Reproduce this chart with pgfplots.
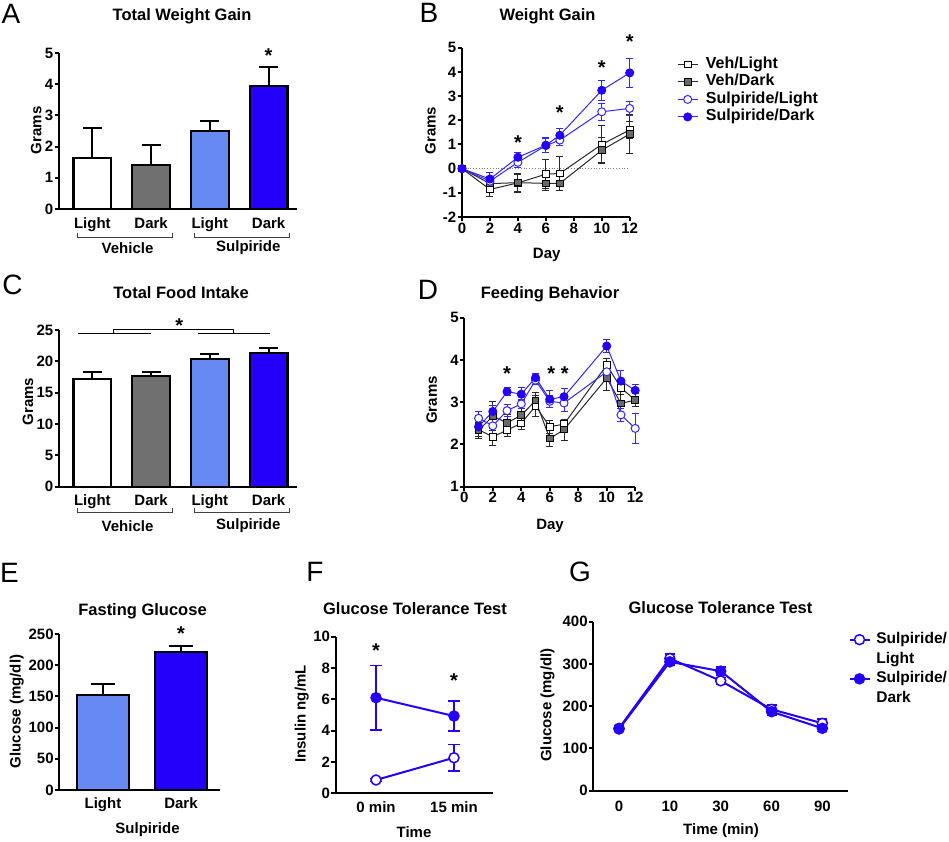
\documentclass[border=0pt]{standalone}
\usepackage{fontspec}
\setmainfont{Liberation Sans}
\usepackage{pgfplots}
\pgfplotsset{compat=1.18}
\definecolor{dblue}{RGB}{36,0,250}
\definecolor{lblue}{RGB}{102,138,242}
\definecolor{bgrey}{RGB}{112,112,112}
\definecolor{lnblue}{RGB}{50,40,255}
\definecolor{lngrey}{RGB}{40,40,40}
\definecolor{mgrey}{RGB}{105,105,105}
\newcommand{\tfont}{\bfseries\fontsize{16.5}{18}\selectfont}
\newcommand{\lfont}{\bfseries\fontsize{15}{17}\selectfont}
\newcommand{\kfont}{\fontsize{28}{30}\selectfont}
\newcommand{\sfont}{\bfseries\fontsize{20}{20}\selectfont}
\pgfplotsset{
  base/.style={
    scale only axis, anchor=south west,
    axis lines=left,
    axis line style={-, line width=2pt, black},
    tick align=outside,
    major tick length=4.5pt,
    tick style={line width=2pt, black},
    tick label style={font=\lfont, inner sep=1pt},
    /pgf/number format/assume math mode=true,
    clip=false,
  },
  catx/.style={major x tick style={draw=none}, xticklabel style={yshift=-#1}},
  barA/.style={ybar, bar shift=0pt, draw=black, line width=2.3pt,
     error bars/y dir=plus, error bars/y explicit,
     error bars/error bar style={line width=2pt, black},
     error bars/error mark options={rotate=90, black, mark size=#1, line width=2pt}},
  ebar/.style n args={3}{error bars/y dir=both, error bars/y explicit,
     error bars/error bar style={line width=#2, #1},
     error bars/error mark options={rotate=90, #1, mark size=#3, line width=#2}},
  vehL/.style={lngrey, line width=1pt, mark=square*, mark size=3.3pt,
     mark options={fill=white, draw=black, line width=1pt}, ebar={lngrey}{1pt}{3.5pt}},
  vehD/.style={lngrey, line width=1pt, mark=square*, mark size=3.3pt,
     mark options={fill=mgrey, draw=black, line width=1pt}, ebar={lngrey}{1pt}{3.5pt}},
  sulL/.style={lnblue, line width=1pt, mark=*, mark size=4pt,
     mark options={fill=white, draw=lnblue, line width=1pt}, ebar={lnblue}{1pt}{3.5pt}},
  sulD/.style={lnblue, line width=1pt, mark=*, mark size=4pt,
     mark options={fill=dblue, draw=dblue, line width=1pt}, ebar={lnblue}{1pt}{3.5pt}},
  bigL/.style={dblue, line width=2pt, mark=*, mark size=5pt,
     mark options={fill=white, draw=dblue, line width=1.5pt}, ebar={dblue}{1.5pt}{#1}},
  bigD/.style={dblue, line width=2pt, mark=*, mark size=5pt,
     mark options={fill=dblue, draw=dblue, line width=1.5pt}, ebar={dblue}{1.5pt}{#1}},
}
\begin{document}
\begin{tikzpicture}[x=1pt,y=1pt]
\path[use as bounding box] (0,0) rectangle (949,841);

% ---------- A ----------
\begin{axis}[base, catx=2.5pt, at={(59pt,632pt)}, width=238pt, height=156pt,
  xmin=-0.568, xmax=3.483, ymin=0, ymax=5, ytick={0,1,2,3,4,5},
  xtick={0,1,2,3}, xticklabels={Light,Dark,Light,Dark}]
\addplot[barA=9.5pt, bar width=0.64, fill=white] coordinates {(0,1.64) +- (0,0.95)};
\addplot[barA=9.5pt, bar width=0.64, fill=bgrey] coordinates {(1,1.41) +- (0,0.65)};
\addplot[barA=9.5pt, bar width=0.64, fill=lblue] coordinates {(2,2.49) +- (0,0.33)};
\addplot[barA=9.5pt, bar width=0.64, fill=dblue] coordinates {(3,3.94) +- (0,0.61)};
\node[font=\sfont, yshift=-4pt] at (axis cs:3,5.04) {*};
\end{axis}

% ---------- B ----------
\begin{axis}[base, at={(462pt,624pt)}, width=167.7pt, height=169.3pt,
  xmin=0, xmax=12, ymin=-2, ymax=5,
  xtick={0,2,4,6,8,10,12}, ytick={-2,-1,0,1,2,3,4,5},
  yticklabels={-2,-1,0,1,2,3,4,5},
  legend style={at={(1.282,0.954)}, anchor=north west, draw=none, fill=none,
    font=\bfseries\fontsize{16}{17}\selectfont, inner sep=0pt, column sep=7pt,
    nodes={text height=12pt, text depth=4pt, inner sep=0.75pt}},
  legend cell align=left,
  legend image code/.code={\draw[mark repeat=2,mark phase=2] plot coordinates {(0pt,0pt) (10pt,0pt) (20pt,0pt)};}]
\addplot[gray, dotted, line width=0.8pt, forget plot] coordinates {(0,0) (12,0)};
\addplot[vehL] coordinates {(0,0) +- (0,0) (2,-0.86) +- (0,0.28) (4,-0.59) +- (0,0.4) (6,-0.23) +- (0,0.6) (7,-0.2) +- (0,0.72) (10,1.0) +- (0,0.8) (12,1.6) +- (0,0.35)};
\addlegendentry{Veh/Light}
\addplot[vehD] coordinates {(0,0) +- (0,0) (2,-0.62) +- (0,0.2) (4,-0.58) +- (0,0.35) (6,-0.61) +- (0,0.3) (7,-0.61) +- (0,0.28) (10,0.76) +- (0,0.52) (12,1.43) +- (0,0.8)};
\addlegendentry{Veh/Dark}
\addplot[sulL] coordinates {(0,0) +- (0,0) (2,-0.52) +- (0,0.2) (4,0.26) +- (0,0.22) (6,0.95) +- (0,0.28) (7,1.18) +- (0,0.22) (10,2.35) +- (0,0.35) (12,2.49) +- (0,0.3)};
\addlegendentry{Sulpiride/Light}
\addplot[sulD] coordinates {(0,0) +- (0,0) (2,-0.43) +- (0,0.25) (4,0.47) +- (0,0.2) (6,0.97) +- (0,0.3) (7,1.38) +- (0,0.28) (10,3.24) +- (0,0.42) (12,3.96) +- (0,0.6)};
\addlegendentry{Sulpiride/Dark}
\node[font=\sfont, yshift=-4pt] at (axis cs:4,1.25) {*};
\node[font=\sfont, yshift=-4pt] at (axis cs:7,2.49) {*};
\node[font=\sfont, yshift=-4pt] at (axis cs:10,4.35) {*};
\node[font=\sfont, yshift=-4pt] at (axis cs:12,5.42) {*};
\end{axis}

% ---------- C ----------
\begin{axis}[base, catx=2.5pt, at={(59pt,354.3pt)}, width=238pt, height=156.7pt,
  xmin=-0.568, xmax=3.483, ymin=0, ymax=25, ytick={0,5,10,15,20,25},
  xtick={0,1,2,3}, xticklabels={Light,Dark,Light,Dark}]
\addplot[barA=9.5pt, bar width=0.64, fill=white] coordinates {(0,17.2) +- (0,1.1)};
\addplot[barA=9.5pt, bar width=0.64, fill=bgrey] coordinates {(1,17.7) +- (0,0.65)};
\addplot[barA=9.5pt, bar width=0.64, fill=lblue] coordinates {(2,20.4) +- (0,0.8)};
\addplot[barA=9.5pt, bar width=0.64, fill=dblue] coordinates {(3,21.3) +- (0,0.9)};
\draw[line width=1.5pt] (axis cs:-0.25,24.45) -- (axis cs:0.99,24.45);
\draw[line width=1.5pt] (axis cs:1.8,24.45) -- (axis cs:3.03,24.45);
\draw[line width=1.5pt] (axis cs:0.36,24.45) -- (axis cs:0.36,25.1) -- (axis cs:2.40,25.1) -- (axis cs:2.40,24.45);
\node[font=\sfont, yshift=-4pt] at (axis cs:1.48,26.3) {*};
\end{axis}

% ---------- D ----------
\begin{axis}[base, at={(464.3pt,354.3pt)}, width=170.9pt, height=169pt,
  xmin=0, xmax=12, ymin=1, ymax=5,
  xtick={0,2,4,6,8,10,12}, ytick={1,2,3,4,5}]
\addplot[vehL] coordinates {(1,2.35) +- (0,0.15) (2,2.18) +- (0,0.2) (3,2.34) +- (0,0.15) (4,2.5) +- (0,0.15) (5,2.91) +- (0,0.25) (6,2.42) +- (0,0.15) (7,2.48) +- (0,0.12) (10,3.88) +- (0,0.15) (11,3.34) +- (0,0.15) (12,3.05) +- (0,0.15)};
\addplot[vehD] coordinates {(1,2.33) +- (0,0.18) (2,2.67) +- (0,0.35) (3,2.51) +- (0,0.2) (4,2.69) +- (0,0.15) (5,3.04) +- (0,0.2) (6,2.14) +- (0,0.2) (7,2.35) +- (0,0.25) (10,3.57) +- (0,0.3) (11,2.97) +- (0,0.3) (12,3.05) +- (0,0.15)};
\addplot[sulL] coordinates {(1,2.62) +- (0,0.15) (2,2.44) +- (0,0.2) (3,2.8) +- (0,0.15) (4,2.96) +- (0,0.1) (5,3.52) +- (0,0.1) (6,3.02) +- (0,0.15) (7,2.98) +- (0,0.2) (10,3.72) +- (0,0.15) (11,2.7) +- (0,0.15) (12,2.38) +- (0,0.35)};
\addplot[sulD] coordinates {(1,2.42) +- (0,0.15) (2,2.78) +- (0,0.15) (3,3.25) +- (0,0.1) (4,3.19) +- (0,0.15) (5,3.58) +- (0,0.1) (6,3.07) +- (0,0.2) (7,3.13) +- (0,0.2) (10,4.33) +- (0,0.15) (11,3.5) +- (0,0.25) (12,3.28) +- (0,0.15)};
\node[font=\sfont, yshift=-4pt] at (axis cs:3,3.76) {*};
\node[font=\sfont, yshift=-4pt] at (axis cs:6.1,3.76) {*};
\node[font=\sfont, yshift=-4pt] at (axis cs:7.05,3.76) {*};
\end{axis}

% ---------- E ----------
\begin{axis}[base, catx=2pt, at={(59.3pt,51pt)}, width=160.7pt, height=156pt,
  xmin=-0.56, xmax=1.5, ymin=0, ymax=250, ytick={0,50,100,150,200,250},
  xtick={0,1}, xticklabels={Light,Dark}]
\addplot[barA=12pt, bar width=0.667, fill=lblue] coordinates {(0,152) +- (0,18)};
\addplot[barA=12pt, bar width=0.667, fill=dblue] coordinates {(1,221) +- (0,10)};
\node[font=\sfont, yshift=-4pt] at (axis cs:1,257.5) {*};
\end{axis}

% ---------- F ----------
\begin{axis}[base, catx=3pt, at={(335.7pt,47.7pt)}, width=157.6pt, height=156.7pt,
  xmin=-0.517, xmax=1.504, ymin=0, ymax=10, ytick={0,2,4,6,8,10},
  xtick={0,1}, xticklabels={0 min,15 min}]
\addplot[bigL=6pt] coordinates {(0,0.85) +- (0,0.1) (1,2.27) +- (0,0.86)};
\addplot[bigD=6pt] coordinates {(0,6.1) +- (0,2.07) (1,4.93) +- (0,0.96)};
\node[font=\sfont, yshift=-4pt] at (axis cs:0,9.34) {*};
\node[font=\sfont, yshift=-4pt] at (axis cs:1,7.44) {*};
\end{axis}

% ---------- G ----------
\begin{axis}[base, catx=4.5pt, at={(593.3pt,50.3pt)}, width=255pt, height=169pt,
  xmin=-0.506, xmax=4.51, ymin=0, ymax=400, ytick={0,100,200,300,400},
  xtick={0,1,2,3,4}, xticklabels={0,10,30,60,90},
  legend style={at={(1.0,0.953)}, anchor=north west, draw=none, fill=none,
    font=\bfseries\fontsize{15.5}{17}\selectfont, inner sep=0pt, column sep=4pt,
    nodes={text height=12pt, text depth=4pt, inner sep=1.8pt}},
  legend cell align=left,
  legend image code/.code={\draw[mark repeat=2,mark phase=2] plot coordinates {(0pt,0pt) (10pt,0pt) (20pt,0pt)};}]
\addplot[bigL=5pt] coordinates {(0,147.7) +- (0,5) (1,313) +- (0,10) (2,260) +- (0,8) (3,192.6) +- (0,10) (4,159.5) +- (0,10)};
\addlegendentry{Sulpiride/}
\addlegendimage{empty legend}\addlegendentry{Light}
\addplot[bigD=5pt] coordinates {(0,146) +- (0,5) (1,305) +- (0,8) (2,283) +- (0,10) (3,187) +- (0,8) (4,147.7) +- (0,8)};
\addlegendentry{Sulpiride/}
\addlegendimage{empty legend}\addlegendentry{Dark}
\end{axis}

% ---------- brackets ----------
\begin{scope}[line width=1pt, draw=black!75]
\draw (77,608.3) -- (77,603.7) -- (172,603.7) -- (172,608.3);
\draw (194,608.3) -- (194,603.7) -- (289,603.7) -- (289,608.3);
\draw (77,332.7) -- (77,328.7) -- (172,328.7) -- (172,332.7);
\draw (194,332.7) -- (194,328.7) -- (289,328.7) -- (289,332.7);
\end{scope}

% ---------- panel letters ----------
\node[font=\kfont] at (11,827.3) {A};
\node[font=\kfont] at (429,828) {B};
\node[font=\kfont] at (12.5,556) {C};
\node[font=\kfont] at (428,551) {D};
\node[font=\kfont] at (9.5,268) {E};
\node[font=\kfont] at (315,269) {F};
\node[font=\kfont] at (580,269) {G};

% ---------- titles ----------
\node[font=\tfont, anchor=base] at (182,820) {Total Weight Gain};
\node[font=\tfont, anchor=base] at (547.5,820) {Weight Gain};
\node[font=\tfont, anchor=base] at (181,542.7) {Total Food Intake};
\node[font=\tfont, anchor=base] at (550,542.7) {Feeding Behavior};
\node[font=\tfont, anchor=base] at (142.5,226) {Fasting Glucose};
\node[font=\tfont, anchor=base] at (415,227) {Glucose Tolerance Test};
\node[font=\tfont, anchor=base] at (720.5,227.7) {Glucose Tolerance Test};

% ---------- y labels ----------
\node[font=\lfont, rotate=90] at (36.2,710.7) {Grams};
\node[font=\lfont, rotate=90] at (430.5,710.5) {Grams};
\node[font=\lfont, rotate=90] at (28,439.3) {Grams};
\node[font=\lfont, rotate=90] at (431.7,441) {Grams};
\node[font=\lfont, rotate=90] at (16.7,129.5) {Glucose (mg/dl)};
\node[font=\lfont, rotate=90] at (301.7,127) {Insulin ng/mL};
\node[font=\lfont, rotate=90] at (547.5,136) {Glucose (mg/dl)};

% ---------- x labels ----------
\node[font=\lfont, anchor=base] at (546.7,582.5) {Day};
\node[font=\lfont, anchor=base] at (550,311.7) {Day};
\node[font=\lfont, anchor=base] at (147.5,7.7) {Sulpiride};
\node[font=\lfont, anchor=base] at (414,4) {Time};
\node[font=\lfont, anchor=base] at (721,7) {Time (min)};
\node[font=\lfont, anchor=base] at (127.5,587) {Vehicle};
\node[font=\lfont, anchor=base] at (248.3,589) {Sulpiride};
\node[font=\lfont, anchor=base] at (127.5,310) {Vehicle};
\node[font=\lfont, anchor=base] at (248.3,312) {Sulpiride};
\end{tikzpicture}
\end{document}
